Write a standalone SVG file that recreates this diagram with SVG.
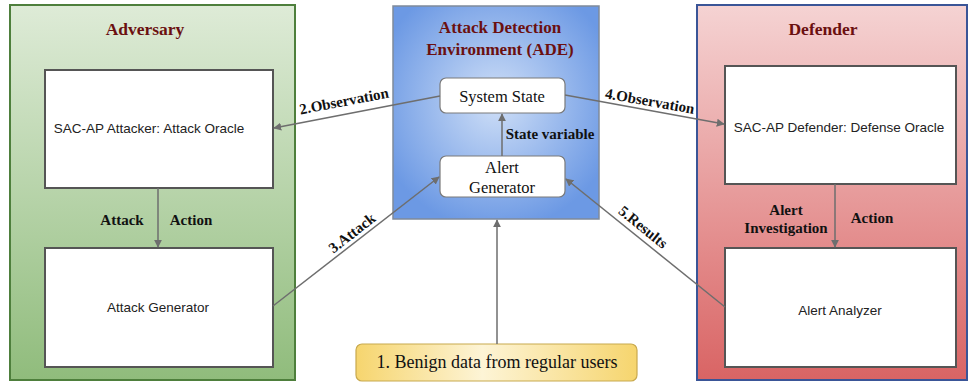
<svg xmlns="http://www.w3.org/2000/svg" width="971" height="386" viewBox="0 0 971 386">
<style>
.title{font-family:"Liberation Serif",serif;font-weight:bold;font-size:17.5px;fill:#6b1010;text-anchor:middle}
.box{fill:#ffffff;stroke:#555555;stroke-width:2}
.rbox{fill:#ffffff;stroke:#7a7a7a;stroke-width:1.2}
.sans{font-family:"Liberation Sans",Arial,sans-serif;font-size:13.5px;fill:#222;text-anchor:middle}
.serif{font-family:"Liberation Serif",serif;font-size:16.5px;fill:#111;text-anchor:middle}
.lbl{font-family:"Liberation Serif",serif;font-weight:bold;font-size:15px;fill:#111;text-anchor:middle}
.conn{stroke:#6e6e6e;stroke-width:1.5;fill:none;marker-end:url(#arr)}
</style>
<defs>
<marker id="arr" viewBox="0 0 10 10" refX="9" refY="5" markerWidth="8" markerHeight="8" markerUnits="userSpaceOnUse" orient="auto">
<path d="M0,0 L10,5 L0,10 z" fill="#6e6e6e"/>
</marker>
<linearGradient id="gGreen" x1="0" y1="0" x2="0" y2="1">
<stop offset="0" stop-color="#deebd7"/>
<stop offset="1" stop-color="#90bc7c"/>
</linearGradient>
<linearGradient id="gRed" x1="0" y1="0" x2="0" y2="1">
<stop offset="0" stop-color="#f5d3d3"/>
<stop offset="1" stop-color="#d96464"/>
</linearGradient>
<radialGradient id="gBlue" cx="0.5" cy="0.45" r="0.6">
<stop offset="0" stop-color="#cfdff7"/>
<stop offset="1" stop-color="#6c99e4"/>
</radialGradient>
<linearGradient id="gYellow" x1="0" y1="0" x2="1" y2="0">
<stop offset="0" stop-color="#f6d56e"/>
<stop offset="0.45" stop-color="#fdf4d6"/>
<stop offset="1" stop-color="#f6d56e"/>
</linearGradient>
</defs>
<rect width="971" height="386" fill="#ffffff"/>

<g id="adversary">
<rect x="10" y="5" width="285" height="375" fill="url(#gGreen)" stroke="#4e7f3c" stroke-width="2"/>
<text class="title" x="145" y="35">Adversary</text>
</g>
<g id="attack-oracle">
<rect class="box" x="45" y="70" width="228" height="118"/>
<text class="sans" x="149" y="133">SAC-AP Attacker: Attack Oracle</text>
</g>
<g id="attack-generator">
<rect class="box" x="45" y="248" width="228" height="119"/>
<text class="sans" x="158" y="312">Attack Generator</text>
</g>

<g id="ade">
<rect x="393" y="6" width="206" height="213" fill="url(#gBlue)" stroke="#7f8a9a" stroke-width="1.5"/>
<text class="title" x="500" y="33" style="font-size:17px">Attack Detection</text>
<text class="title" x="500" y="55" style="font-size:17px">Environment (ADE)</text>
</g>
<g id="system-state">
<rect class="rbox" x="440" y="78" width="125" height="35" rx="6"/>
<text class="serif" x="502" y="102">System State</text>
</g>
<g id="alert-generator">
<rect class="rbox" x="440" y="156" width="125" height="41" rx="6"/>
<text class="serif" x="502" y="173">Alert</text>
<text class="serif" x="502" y="193">Generator</text>
</g>

<g id="defender">
<rect x="697" y="5" width="270" height="375" fill="url(#gRed)" stroke="#3a5597" stroke-width="2"/>
<text class="title" x="823" y="35">Defender</text>
</g>
<g id="defense-oracle">
<rect class="box" x="725" y="66" width="231" height="118"/>
<text class="sans" x="839" y="132">SAC-AP Defender: Defense Oracle</text>
</g>
<g id="alert-analyzer">
<rect class="box" x="725" y="248" width="231" height="119"/>
<text class="sans" x="840" y="315">Alert Analyzer</text>
</g>

<g id="benign">
<rect x="356" y="344" width="281" height="37" rx="6" fill="url(#gYellow)" stroke="#c8a94e" stroke-width="1.2"/>
<text class="serif" x="497" y="368" style="font-size:18px">1. Benign data from regular users</text>
</g>

<g id="connectors">
<line class="conn" x1="158" y1="188" x2="158" y2="247"/>
<line class="conn" x1="835" y1="184" x2="835" y2="247"/>
<line class="conn" x1="502" y1="156" x2="502" y2="114"/>
<line class="conn" x1="497" y1="344" x2="497" y2="220"/>
<line class="conn" x1="440" y1="96" x2="274" y2="128"/>
<line class="conn" x1="565" y1="95" x2="724" y2="124"/>
<line class="conn" x1="273" y1="306" x2="439" y2="177"/>
<line class="conn" x1="725" y1="307" x2="566" y2="179"/>
<text class="lbl" x="122" y="225">Attack</text>
<text class="lbl" x="191" y="225">Action</text>
<text class="lbl" x="786" y="215">Alert</text>
<text class="lbl" x="786" y="233">Investigation</text>
<text class="lbl" x="872" y="223">Action</text>
<text class="lbl" x="550" y="139">State variable</text>
<text class="lbl" transform="translate(345,106) rotate(-10.8)" x="0" y="0">2.Observation</text>
<text class="lbl" transform="translate(649,106) rotate(10)" x="0" y="0">4.Observation</text>
<text class="lbl" transform="translate(355,237) rotate(-38)" x="0" y="0">3.Attack</text>
<text class="lbl" transform="translate(640,231) rotate(39)" x="0" y="0">5.Results</text>
</g>
</svg>
